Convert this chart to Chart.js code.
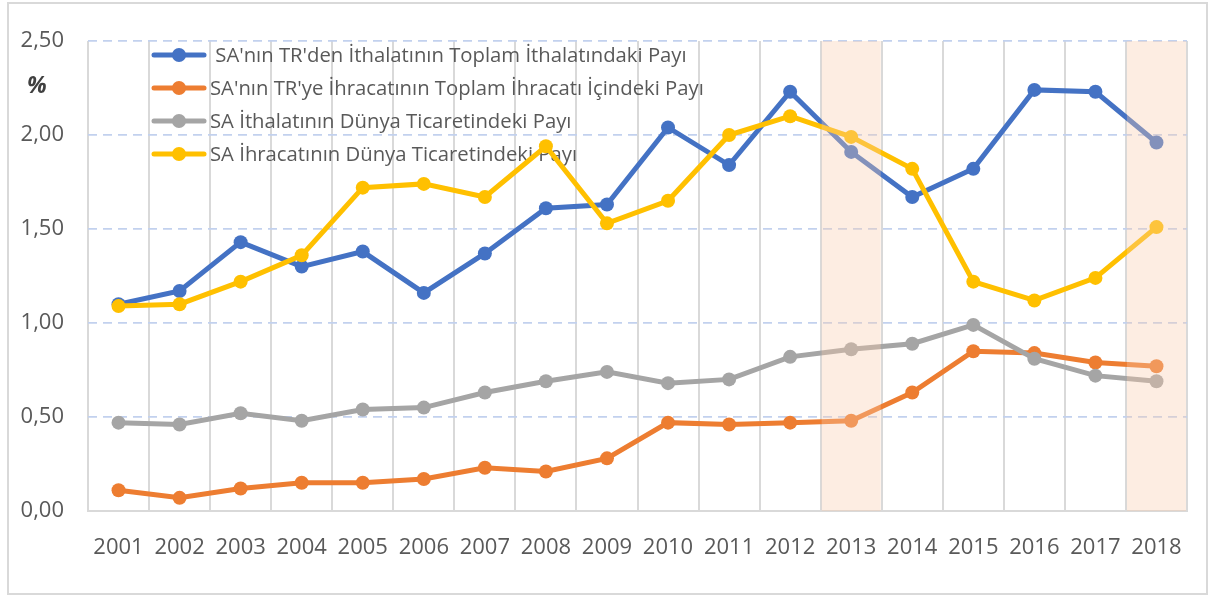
<!DOCTYPE html>
<html>
<head>
<meta charset="utf-8">
<script src="https://cdn.jsdelivr.net/npm/chart.js@4/dist/chart.umd.min.js"></script>
<style>
  html, body { margin: 0; padding: 0; background: #fff; }
  #wrap { position: relative; width: 1210px; height: 598px; }
</style>
</head>
<body>
<div id="wrap"><canvas id="trChart" width="1210" height="598"></canvas></div>
<script>
var years = ['2001','2002','2003','2004','2005','2006','2007','2008','2009','2010','2011','2012','2013','2014','2015','2016','2017','2018'];
var importShareTR = [1.10, 1.17, 1.43, 1.30, 1.38, 1.16, 1.37, 1.61, 1.63, 2.04, 1.84, 2.23, 1.91, 1.67, 1.82, 2.24, 2.23, 1.96];
var exportShareTR = [0.11, 0.07, 0.12, 0.15, 0.15, 0.17, 0.23, 0.21, 0.28, 0.47, 0.46, 0.47, 0.48, 0.63, 0.85, 0.84, 0.79, 0.77];
var importShareWorld = [0.47, 0.46, 0.52, 0.48, 0.54, 0.55, 0.63, 0.69, 0.74, 0.68, 0.70, 0.82, 0.86, 0.89, 0.99, 0.81, 0.72, 0.69];
var exportShareWorld = [1.09, 1.10, 1.22, 1.36, 1.72, 1.74, 1.67, 1.94, 1.53, 1.65, 2.00, 2.10, 1.99, 1.82, 1.22, 1.12, 1.24, 1.51];
var seriesNames = [" SA'nın TR'den İthalatının Toplam İthalatındaki Payı", "SA'nın TR'ye İhracatının Toplam İhracatı İçindeki Payı", "SA İthalatının Dünya Ticaretindeki Payı", "SA İhracatının Dünya Ticaretindeki Payı"];
var seriesColors = ['#4472c4', '#ed7d31', '#a5a5a5', '#ffc000'];
var yTicks = [0, 0.5, 1, 1.5, 2, 2.5];
var highlightYears = ['2013', '2018'];

var FONT = "'Open Sans', sans-serif";

function makeSet(i, values, order) {
    return {
        label: seriesNames[i],
        data: values,
        borderColor: seriesColors[i],
        backgroundColor: seriesColors[i],
        borderWidth: 5,
        pointRadius: 7,
        pointHoverRadius: 7,
        pointBorderWidth: 0,
        tension: 0,
        order: order
    };
}

// frame + white background
var framePlugin = {
    id: 'frame',
    beforeDraw: function (chart) {
        var ctx = chart.ctx;
        ctx.save();
        ctx.fillStyle = '#ffffff';
        ctx.fillRect(0, 0, chart.width, chart.height);
        ctx.strokeStyle = '#d9d9d9';
        ctx.lineWidth = 2;
        ctx.strokeRect(8, 3, chart.width - 11, chart.height - 7);
        ctx.restore();
    }
};

// legend drawn inside the plot, under the lines
var legendPlugin = {
    id: 'innerLegend',
    beforeDatasetsDraw: function (chart) {
        var ctx = chart.ctx;
        ctx.save();
        ctx.font = "20.3px " + FONT;
        ctx.textBaseline = 'middle';
        seriesNames.forEach(function (name, i) {
            var y = 55 + i * 33;
            ctx.strokeStyle = seriesColors[i];
            ctx.lineWidth = 5;
            ctx.lineCap = 'round';
            ctx.beginPath();
            ctx.moveTo(154, y);
            ctx.lineTo(204, y);
            ctx.stroke();
            ctx.fillStyle = seriesColors[i];
            ctx.beginPath();
            ctx.arc(179, y, 7, 0, Math.PI * 2);
            ctx.fill();
            ctx.fillStyle = '#595959';
            ctx.fillText(name, 210, y + 1);
        });
        // y axis unit
        ctx.font = "italic bold 23px " + FONT;
        ctx.fillStyle = '#404040';
        ctx.fillText('%', 27, 86);
        ctx.restore();
    }
};

// shaded years on top of the lines
var bandPlugin = {
    id: 'bands',
    afterDatasetsDraw: function (chart) {
        var ctx = chart.ctx, x = chart.scales.x, area = chart.chartArea;
        var half = (x.getPixelForValue(1) - x.getPixelForValue(0)) / 2;
        ctx.save();
        ctx.fillStyle = 'rgba(248, 203, 173, 0.35)';
        highlightYears.forEach(function (yr) {
            var idx = years.indexOf(yr);
            if (idx < 0) return;
            var cx = x.getPixelForValue(idx);
            ctx.fillRect(cx - half + 1, area.top, half * 2 - 2, area.bottom - area.top);
        });
        ctx.restore();
    }
};

var canvas = document.getElementById('trChart');
var chart = new Chart(canvas.getContext('2d'), {
    type: 'line',
    data: {
        labels: years,
        datasets: [
            makeSet(0, importShareTR, 3),
            makeSet(1, exportShareTR, 2),
            makeSet(2, importShareWorld, 1),
            makeSet(3, exportShareWorld, 0)
        ]
    },
    options: {
        responsive: false,
        animation: false,
        layout: { padding: { top: 41, right: 23, left: 0, bottom: 0 } },
        plugins: {
            legend: { display: false },
            tooltip: { enabled: false }
        },
        scales: {
            x: {
                offset: true,
                grid: { offset: true, color: '#d9d9d9', lineWidth: 2, drawTicks: false },
                border: { display: true, color: '#d9d9d9', width: 2 },
                ticks: { color: '#595959', font: { family: FONT, size: 22 }, padding: 24, maxRotation: 0, autoSkip: false },
                afterFit: function (s) { s.height = 87; }
            },
            y: {
                min: 0,
                max: 2.5,
                afterBuildTicks: function (s) { s.ticks = yTicks.map(function (v) { return { value: v }; }); },
                grid: { color: '#c2d1ee', lineWidth: 1.8, drawTicks: false },
                border: { display: false, dash: [9, 6] },
                ticks: {
                    color: '#595959',
                    font: { family: FONT, size: 22 },
                    padding: 24,
                    callback: function (v) { return Number(v).toFixed(2).replace('.', ','); }
                },
                afterFit: function (s) { s.width = 88; }
            }
        }
    },
    plugins: [framePlugin, legendPlugin, bandPlugin]
});
</script>
</body>
</html>
